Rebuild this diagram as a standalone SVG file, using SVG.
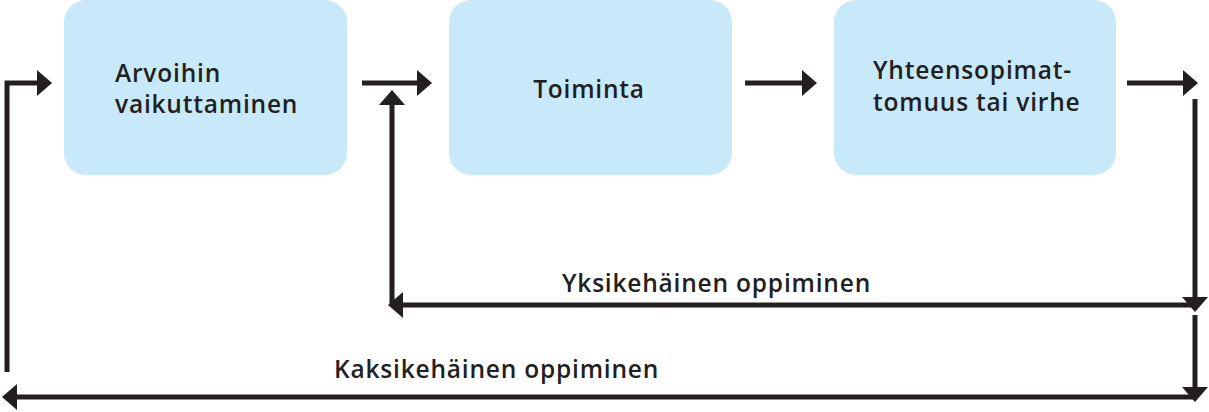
<svg xmlns="http://www.w3.org/2000/svg" width="1209" height="412" viewBox="0 0 1209 412">
<style>
.box{fill:#c8e9f9}
.t{font-family:"Open Sans","Liberation Sans",sans-serif;font-weight:600;font-size:24.5px;letter-spacing:0.8px;fill:#231f20}
.ln{stroke:#231f20;stroke-width:5;fill:none}
.ah{fill:#231f20}
</style>
<rect width="1209" height="412" fill="#fff"/>
<g id="node1"><rect class="box" x="64" y="0" width="283" height="175" rx="22"/>
<text class="t" x="115" y="82">Arvoihin</text><text class="t" x="115" y="113">vaikuttaminen</text></g>
<g id="node2"><rect class="box" x="449" y="0" width="283" height="175" rx="22"/>
<text class="t" x="589" y="98" text-anchor="middle">Toiminta</text></g>
<g id="node3"><rect class="box" x="834" y="0" width="282" height="175" rx="22"/>
<text class="t" x="873" y="79">Yhteensopimat-</text><text class="t" x="873" y="111">tomuus tai virhe</text></g>
<g id="connectors">
<path class="ln" d="M7,372 V83 H40"/><polygon class="ah" points="52,83 37,70 37,96"/>
<path class="ln" d="M362,83 H420"/><polygon class="ah" points="432,83 417,70 417,96"/>
<path class="ln" d="M745,83 H805"/><polygon class="ah" points="817,83 802,70 802,96"/>
<path class="ln" d="M1127,83 H1186"/><polygon class="ah" points="1198,83 1183,70 1183,96"/>
<path class="ln" d="M1195,99 V300"/><polygon class="ah" points="1195,312 1182,297 1208,297"/>
<path class="ln" d="M1195,315 V390"/><polygon class="ah" points="1195,402 1182,387 1208,387"/>
<path class="ln" d="M1195,305 H400"/><polygon class="ah" points="388,305 403,292 403,318"/>
<path class="ln" d="M392,305 V102"/><polygon class="ah" points="392,90 379,105 405,105"/>
<path class="ln" d="M1195,397 H14"/><polygon class="ah" points="2,397 17,384 17,410"/>
<text class="t" x="562" y="292">Yksikehäinen oppiminen</text>
<text class="t" x="334" y="378">Kaksikehäinen oppiminen</text>
</g>
</svg>
